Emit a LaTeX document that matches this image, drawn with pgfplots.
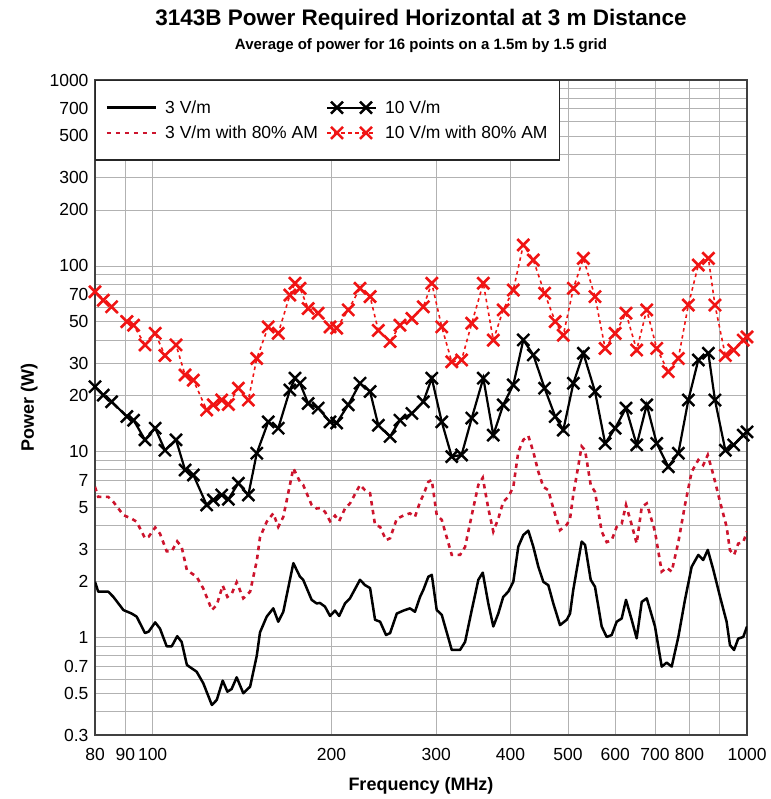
\documentclass[border=0pt]{standalone}
\usepackage{fontspec}
\setmainfont{Liberation Sans}
\usepackage{pgfplots}
\pgfplotsset{compat=1.18}
\definecolor{amred}{RGB}{205,20,45}
\definecolor{xred}{RGB}{240,20,20}
\begin{document}
\begin{tikzpicture}
\useasboundingbox (-95pt,-64pt) rectangle (675pt,735pt);
\begin{axis}[
  at={(0pt,0pt)}, anchor=south west,
  scale only axis, width=652pt, height=655pt,
  xmode=log, ymode=log,
  xmin=80, xmax=1000, ymin=0.3, ymax=1000,
  xtick={80,90,100,200,300,400,500,600,700,800,1000},
  xticklabels={80,90,100,200,300,400,500,600,700,800,1000},
  minor xtick={900},
  ytick={0.3,0.5,0.7,1,2,3,5,7,10,20,30,50,70,100,200,300,500,700,1000},
  yticklabels={0.3,0.5,0.7,1,2,3,5,7,10,20,30,50,70,100,200,300,500,700,1000},
  minor ytick={0.4,0.6,0.8,0.9,4,6,8,9,40,60,80,90,400,600,800,900},
  grid=both,
  major grid style={line width=0.8pt, black!30},
  minor grid style={line width=0.8pt, black!30},
  major tick length=0pt, minor tick length=0pt,
  tick label style={font=\fontsize{17.5}{17.5}\selectfont, black},
  xticklabel style={yshift=-10pt},
  yticklabel style={xshift=-3pt},
  axis line style={line width=1.8pt, black!75},
  clip mode=individual,
  legend columns=2,
  legend cell align=left,
  legend style={at={(0,1)}, anchor=north west, draw=black!85, line width=1.2pt, fill=white,
    font=\fontsize{17.5}{17.5}\selectfont, inner xsep=10pt, inner ysep=18pt,
    column sep=6pt, row sep=7pt, nodes={inner sep=2pt}},
  legend image code/.code={\draw[mark indices={2,3},#1] plot coordinates {(0pt,0pt) (10pt,0pt) (39pt,0pt) (49pt,0pt)};},
]
% 3 V/m
\addplot[black, line width=2.5pt, line join=round] table {
80 2.00
81 1.77
84.2 1.77
85.9 1.66
89.3 1.41
92.2 1.35
94 1.30
97.1 1.06
98.5 1.08
101 1.21
102.9 1.12
105.6 0.90
107.7 0.90
110 1.02
111.9 0.95
114.2 0.714
118.6 0.657
121.7 0.569
125.8 0.435
128.2 0.463
131.2 0.588
133.6 0.513
135.8 0.53
138.5 0.613
142.1 0.503
145.9 0.546
149.7 0.80
151.6 1.07
155.6 1.30
159.6 1.44
162.7 1.22
165.9 1.38
172.5 2.52
177 2.13
179.2 2.05
185.2 1.60
188.8 1.53
191.2 1.54
195 1.47
198.9 1.31
202.7 1.40
206 1.31
210.7 1.53
214.8 1.63
223.3 2.05
227.7 1.92
232.2 1.85
236.7 1.25
241.4 1.22
247 1.035
250.9 1.06
257.5 1.35
264.2 1.40
271 1.44
276.3 1.38
281.8 1.66
285.4 1.81
291 2.13
294.9 2.18
300.6 1.41
306.5 1.33
318.6 0.86
329 0.86
335.5 0.95
344.3 1.41
353.2 2.05
359.3 2.24
367.1 1.53
374.3 1.15
381.6 1.35
389 1.66
396.6 1.77
404.4 2.00
412.3 3.09
420.4 3.57
428.6 3.77
437 3.09
445.6 2.41
454.3 2.00
463.1 1.92
472.2 1.53
484.6 1.17
497.4 1.25
503.8 1.35
510 1.8
517 2.32
527 3.29
534 3.16
545.8 2.05
555 1.88
569.5 1.15
580.6 1.01
592 1.035
603.6 1.22
615.4 1.27
625.8 1.60
639.7 1.25
652.2 0.994
665.1 1.56
678.1 1.63
700.2 1.15
718.6 0.70
732.6 0.735
747 0.70
766.4 1.01
786.4 1.60
807 2.41
828 2.79
844 2.62
859 2.97
877.7 2.32
900.9 1.66
924 1.22
936 0.914
951 0.86
966.6 0.99
985.5 1.01
1000 1.15
};
\addlegendentry{3 V/m}
% 10 V/m
\addplot[black, line width=2.2pt, mark=x, mark size=8.5pt, mark options={line width=2.4pt}] table {
80 22.4
82.6 20.2
85.3 18.6
90.5 15.5
92.9 14.8
97.1 11.6
101 13.4
104.9 10.2
109.5 11.6
113.4 7.99
117.1 7.51
123.3 5.18
126.5 5.51
130.7 5.86
134.1 5.56
139.4 6.78
144.9 5.86
149.7 9.83
156.5 14.5
162.7 13.4
170.2 21.5
173.6 24.9
177 23.4
182.7 18.2
189.9 17.2
198.9 14.5
204 14.3
213.4 17.9
223.3 23.4
232.2 21.1
239.7 13.9
250.9 12.1
260.7 14.8
273 16.1
285.4 18.6
294.9 24.9
306.5 14.5
318.6 9.42
331 9.63
344.3 15.2
360.1 24.9
374.3 12.3
389 17.9
404.4 22.9
420.4 40.0
437 33.2
456.5 22.0
475.7 15.5
490.8 13.1
510.4 23.4
530.5 33.9
555 21.1
577.2 11.1
600 13.4
625.8 17.2
652.2 10.9
678.1 17.9
704.9 11.1
737.2 8.32
766.4 9.83
796.8 19.0
828 31.2
861 33.9
883.2 19.0
919.5 10.2
949.6 10.9
985.5 12.3
1000 12.8
};
\addlegendentry{10 V/m}
% 3 V/m with 80% AM
\addplot[amred, line width=2.6pt, dash pattern=on 4.5pt off 4.5pt] table {
80 6.48
81 5.73
84.2 5.73
85.9 5.38
89.3 4.57
92.2 4.37
94 4.21
97.1 3.43
98.5 3.50
101 3.92
102.9 3.63
105.6 2.92
107.7 2.92
110 3.30
111.9 3.08
114.2 2.31
118.6 2.13
121.7 1.84
125.8 1.41
128.2 1.50
131.2 1.91
133.6 1.66
135.8 1.72
138.5 1.99
142.1 1.63
145.9 1.77
149.7 2.59
151.6 3.47
155.6 4.21
159.6 4.67
162.7 3.95
165.9 4.47
172.5 8.16
177 6.90
179.2 6.64
185.2 5.18
188.8 4.96
191.2 4.99
195 4.76
198.9 4.24
202.7 4.54
206 4.24
210.7 4.96
214.8 5.28
223.3 6.64
227.7 6.22
232.2 5.99
236.7 4.05
241.4 3.95
247 3.35
250.9 3.43
257.5 4.37
264.2 4.54
271 4.67
276.3 4.47
281.8 5.38
285.4 5.86
291 6.90
294.9 7.06
300.6 4.57
306.5 4.31
318.6 2.79
329 2.79
335.5 3.08
344.3 4.57
353.2 6.64
359.3 7.26
367.1 4.96
374.3 3.73
381.6 4.37
389 5.38
396.6 5.73
404.4 6.48
412.3 10.0
420.4 11.6
428.6 12.2
437 10.0
445.6 7.81
454.3 6.48
463.1 6.22
472.2 4.96
484.6 3.79
497.4 4.05
503.8 4.37
510 5.83
517 7.52
527 10.7
534 10.2
545.8 6.64
555 6.09
569.5 3.73
580.6 3.27
592 3.35
603.6 3.95
615.4 4.11
625.8 5.18
639.7 4.05
652.2 3.22
665.1 5.05
678.1 5.28
700.2 3.73
718.6 2.27
732.6 2.38
747 2.27
766.4 3.27
786.4 5.18
807 7.81
828 9.04
844 8.49
859 9.62
877.7 7.52
900.9 5.38
924 3.95
936 2.96
951 2.79
966.6 3.21
985.5 3.27
1000 3.73
};
\addlegendentry{3 V/m with 80\% AM}
% 10 V/m with 80% AM
\addplot[xred, line width=1.6pt, dash pattern=on 3.5pt off 3.5pt, mark=x, mark size=8.5pt, mark options={solid, line width=2.6pt}] table {
80 72.6
82.6 65.4
85.3 60.3
90.5 50.2
92.9 48.0
97.1 37.6
101 43.4
104.9 33.0
109.5 37.6
113.4 25.9
117.1 24.3
123.3 16.8
126.5 17.9
130.7 19.0
134.1 18.0
139.4 22.0
144.9 19.0
149.7 31.8
156.5 47.0
162.7 43.4
170.2 69.7
173.6 80.7
177 75.8
182.7 59.0
189.9 55.7
198.9 47.0
204 46.3
213.4 58.0
223.3 75.8
232.2 68.4
239.7 45.0
250.9 39.2
260.7 48.0
273 52.2
285.4 60.3
294.9 80.7
306.5 47.0
318.6 30.5
331 31.2
344.3 49.2
360.1 80.7
374.3 39.9
389 58.0
404.4 74.2
420.4 129.6
437 107.6
456.5 71.3
475.7 50.2
490.8 42.4
510.4 75.8
530.5 109.8
555 68.4
577.2 36.0
600 43.4
625.8 55.7
652.2 35.3
678.1 58.0
704.9 36.0
737.2 27.0
766.4 31.8
796.8 61.6
828 101.1
861 109.8
883.2 61.6
919.5 33.0
949.6 35.3
985.5 39.9
1000 41.5
};
\addlegendentry{10 V/m with 80\% AM}
\end{axis}
\node[anchor=base, font=\bfseries\fontsize{22.5}{22.5}\selectfont] at (326pt,709pt) {3143B Power Required Horizontal at 3 m Distance};
\node[anchor=base, font=\bfseries\fontsize{15}{15}\selectfont] at (326pt,685pt) {Average of power for 16 points on a 1.5m by 1.5 grid};
\node[anchor=base, font=\bfseries\fontsize{18}{18}\selectfont] at (326pt,-55pt) {Frequency (MHz)};
\node[anchor=base, rotate=90, font=\bfseries\fontsize{18}{18}\selectfont] at (-61pt,327.5pt) {Power (W)};
\end{tikzpicture}
\end{document}
